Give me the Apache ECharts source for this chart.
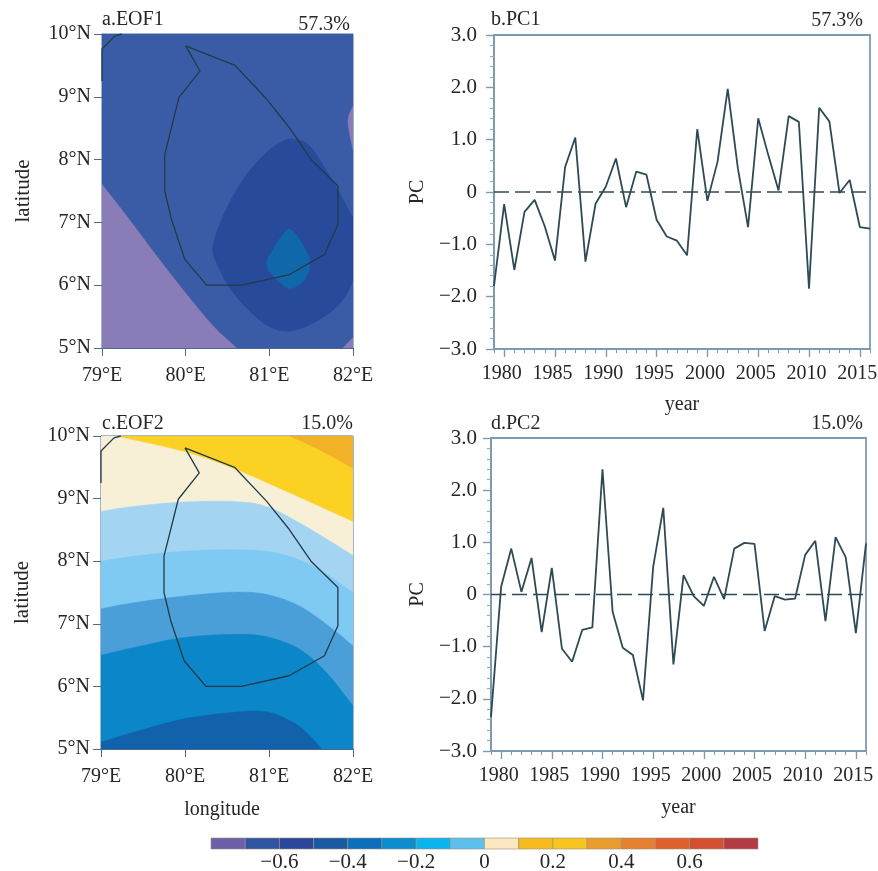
<!DOCTYPE html>
<html><head><meta charset="utf-8">
<style>html,body{margin:0;padding:0;background:#fff}#c{width:878px;height:871px}</style>
<script src="https://cdn.jsdelivr.net/npm/echarts@6/dist/echarts.min.js"></script>
</head><body><div id="c"></div>
<script>
// ---------- data ----------
const years = [1979,1980,1981,1982,1983,1984,1985,1986,1987,1988,1989,1990,1991,1992,1993,1994,1995,1996,1997,1998,1999,2000,2001,2002,2003,2004,2005,2006,2007,2008,2009,2010,2011,2012,2013,2014,2015,2016];
const pc1 = [-1.8,-0.23,-1.49,-0.38,-0.15,-0.66,-1.31,0.48,1.04,-1.33,-0.22,0.1,0.64,-0.29,0.39,0.33,-0.53,-0.85,-0.93,-1.21,1.2,-0.17,0.58,1.97,0.45,-0.67,1.41,0.7,0.03,1.45,1.34,-1.85,1.61,1.35,-0.02,0.23,-0.67,-0.7];
const pc2 = [-2.35,0.15,0.88,0.05,0.7,-0.72,0.51,-1.04,-1.29,-0.68,-0.63,2.4,-0.33,-1.02,-1.16,-2.03,0.53,1.66,-1.34,0.37,-0.03,-0.22,0.34,-0.09,0.88,0.99,0.97,-0.7,-0.03,-0.1,-0.08,0.76,1.03,-0.51,1.1,0.71,-0.74,0.98];
const fiveYearTicks = [1980,1985,1990,1995,2000,2005,2010,2015];

const sriLanka = [[80,9.81],[80.17,9.41],[79.92,8.99],[79.75,8.08],[79.75,7.5],[79.83,7.05],[79.99,6.41],[80.25,6],[80.67,6],[81.24,6.17],[81.66,6.49],[81.82,6.97],[81.82,7.58],[81.5,8],[81.24,8.51],[80.97,8.96],[80.59,9.5],[80,9.81]];
const india = [[79,9.25],[79,9.76],[79.155,9.97],[79.235,10]];

const eof1Color = {base:'#3a5ca6', purple:'#8a7cb6', dark:'#274a9b', core:'#1068ab'};
const eof1LowerLeft = [[79,7.606],[79.294,7.102],[79.653,6.465],[80.011,5.855],[80.329,5.35],[80.608,5]];
const eof1LowerLeftCorners = [[79,5]];
const eof1RightBulge = [[82,8.85],[81.94,8.61],[82,8.16]];
const eof1CornerPatch = [[82,5.165],[81.88,5]];
const eof1CornerPatchCorners = [[82,5]];
const eof1Dark = [[81.284,8.323],[81.483,8.217],[81.722,7.739],[81.921,7.261],[82.05,6.9],[82.05,6.3],[81.881,5.775],[81.602,5.456],[81.244,5.271],[80.926,5.403],[80.568,5.881],[80.369,6.359],[80.329,6.624],[80.448,7.102],[80.687,7.686],[80.966,8.11],[81.165,8.296]];
const eof1Core = [[81.252,6.889],[81.384,6.677],[81.483,6.385],[81.423,6.093],[81.252,5.95],[81.085,6.093],[80.966,6.332],[81.045,6.571],[81.165,6.81]];

const eof2Color = {cream:'#f7efd6', yellow:'#fbd124', orange:'#f2b228', pale:'#a3d4f2', sky:'#7fcaf2', mid:'#4a9fd8', deep:'#0a86c9', navy:'#1261ab'};
const eof2Yellow = [[79.186,10],[79.999,9.751],[80.574,9.485],[81.168,9.14],[82,8.636]];
const eof2YellowCorners = [[82,10]];
const eof2Orange = [[81.247,10],[81.604,9.777],[82,9.485]];
const eof2OrangeCorners = [[82,10]];
const eof2Pale = [[79,8.795],[79.384,8.875],[79.979,8.944],[80.574,8.954],[80.97,8.875],[81.366,8.609],[81.763,8.291],[82,8.089]];
const eof2Sky = [[79,7.999],[79.384,8.079],[79.979,8.158],[80.574,8.185],[81.089,8.132],[81.564,7.893],[82,7.495]];
const eof2Mid = [[79,7.24],[79.384,7.335],[79.979,7.442],[80.574,7.505],[80.97,7.468],[81.366,7.282],[81.763,6.911],[82,6.645]];
const eof2Deep = [[79,6.497],[79.384,6.619],[79.979,6.778],[80.574,6.831],[80.97,6.794],[81.366,6.592],[81.683,6.221],[82,5.69]];
const eof2Navy = [[79,5.106],[79.384,5.265],[79.979,5.478],[80.574,5.584],[80.97,5.594],[81.287,5.425],[81.485,5.212],[81.624,5]];
const eof2BottomCorners = [[82,5],[79,5]];

const colorbarEdges = [-0.8,-0.7,-0.6,-0.5,-0.4,-0.3,-0.2,-0.1,0,0.1,0.2,0.3,0.4,0.5,0.6,0.7,0.8];
const colorbarColors = ['#6f5fa8','#2f55a3','#2b479b','#1a5aa3','#0a70bb','#0b8dd0','#0ab4ec','#5cc0ec','#fbe8c0','#f7bb1e','#f6c520','#e89c2c','#e5812f','#e0602c','#d44e31','#b33b45'];
const colorbarLabels = [-0.6,-0.4,-0.2,0,0.2,0.4,0.6];

// ---------- helpers ----------
const FONT = '"Liberation Serif","DejaVu Serif",serif';
const INK = '#262626', FRAME = '#7d9ab0', LINE = '#2f4a55';

function spline(p, closed){
  const n = p.length, out = [];
  const at = i => closed ? p[(i+n)%n] : p[Math.max(0,Math.min(n-1,i))];
  const segs = closed ? n : n-1;
  for(let i=0;i<segs;i++){
    const a=at(i-1),b=at(i),c=at(i+1),d=at(i+2);
    for(let k=0;k<10;k++){
      const t=k/10,t2=t*t,t3=t2*t;
      out.push([0,1].map(j=>0.5*(2*b[j]+(c[j]-a[j])*t+(2*a[j]-5*b[j]+4*c[j]-d[j])*t2+(3*b[j]-a[j]-3*c[j]+d[j])*t3)));
    }
  }
  if(!closed) out.push(p[n-1]);
  return out;
}
function fieldSeries(axis, layers){
  return {type:'custom', xAxisIndex:axis, yAxisIndex:axis, clip:true, silent:true, z:1,
    data:layers.map((l,i)=>[i]), encode:{x:[],y:[]},
    renderItem(params, api){
      const l = layers[params.dataIndex];
      const edge = spline(l.edge.map(q=>api.coord(q)), !!l.closed);
      const pts = edge.concat((l.corners||[]).map(q=>api.coord(q)));
      return {type:'polygon', shape:{points:pts}, style:{fill:l.color, stroke:l.color, lineWidth:0.5}};
    }};
}
function rectLayer(color){return {color, edge:[[79,10],[82,10]], corners:[[82,5],[79,5]]};}

const gridA={left:102,top:34,width:251,height:314}, gridB={left:494,top:35,width:376,height:314},
      gridC={left:101,top:436,width:252,height:313}, gridD={left:491,top:438,width:375,height:313},
      gridBar={left:211,top:838,width:547,height:11,outerBoundsMode:'none'};
const frame = (g,w,c) => Object.assign({show:true, borderColor:c, borderWidth:w, backgroundColor:'transparent', outerBoundsMode:'none'}, g);

const labelStyle = {fontFamily:FONT, fontSize:20, color:INK};
const MAPLINE = '#4c6a90';
function mapX(i, name){return {gridIndex:i,type:'value',min:79,max:82,interval:1,
  axisLine:{onZero:false,lineStyle:{color:MAPLINE,width:1}},axisTick:{length:8,lineStyle:{color:MAPLINE}},
  axisLabel:Object.assign({margin:18,formatter:v=>v+'°E',hideOverlap:false,showMinLabel:true,showMaxLabel:true},labelStyle),splitLine:{show:false},
  name:name||'',nameLocation:'middle',nameGap:51,nameTextStyle:Object.assign({},labelStyle,{padding:[0,10,0,0]})};}
function mapY(i){return {gridIndex:i,type:'value',min:5,max:10,interval:1,
  axisLine:{onZero:false,lineStyle:{color:MAPLINE,width:1}},axisTick:{length:8,lineStyle:{color:MAPLINE}},
  axisLabel:Object.assign({margin:11,formatter:v=>v+'°N',showMinLabel:true,showMaxLabel:true},labelStyle),splitLine:{show:false},
  name:'latitude',nameLocation:'middle',nameGap:68,nameTextStyle:Object.assign({},labelStyle,{fontSize:21})};}
function yearX(i,margin,gap){return {gridIndex:i,type:'value',position:'bottom',min:1979,max:2016,
  axisLine:{onZero:false,lineStyle:{color:FRAME,width:1.8}},
  axisTick:{length:8,lineStyle:{color:FRAME,width:1.4},customValues:fiveYearTicks},
  axisLabel:Object.assign({margin,padding:[0,5,0,0],customValues:fiveYearTicks,formatter:v=>String(v),hideOverlap:false},labelStyle),splitLine:{show:false},
  name:'year',nameLocation:'middle',nameGap:gap,nameTextStyle:labelStyle};}
function yearMinor(i){return {gridIndex:i,type:'value',position:'bottom',min:1979,max:2016,
  axisLine:{show:false,onZero:false},axisTick:{length:4,lineStyle:{color:FRAME,width:1},customValues:years},
  axisLabel:{show:false},splitLine:{show:false}};}
function pcY(i,margin,gap){return {gridIndex:i,type:'value',min:-3,max:3,interval:1,
  axisLine:{onZero:false,lineStyle:{color:FRAME,width:1.8}},axisTick:{length:8,lineStyle:{color:FRAME,width:1.4}},
  minorTick:{show:true,splitNumber:5,length:4,lineStyle:{color:'#93acbd',width:1.2}},
  axisLabel:Object.assign({margin,formatter:v=>v===0?'0':(v<0?'\u2212':'')+Math.abs(v).toFixed(1),showMinLabel:true,showMaxLabel:true},labelStyle,{fontSize:21}),splitLine:{show:false},
  name:'PC',nameLocation:'middle',nameGap:gap,nameTextStyle:labelStyle};}
const outlineSeries=(axis,data)=>({type:'line',xAxisIndex:axis,yAxisIndex:axis,data,showSymbol:false,symbol:'none',silent:true,z:3,lineStyle:{color:'#223a48',width:1.3}});
const coastSeries=(axis)=>outlineSeries(axis,india);
const pcSeries=(axis,vals)=>({type:'line',xAxisIndex:axis,yAxisIndex:axis,data:years.map((y,i)=>[y,vals[i]]),showSymbol:false,symbol:'none',silent:true,z:3,lineStyle:{color:LINE,width:1.8}});
const zeroSeries=(axis)=>({type:'line',xAxisIndex:axis,yAxisIndex:axis,data:[[1979,0],[2016,0]],showSymbol:false,symbol:'none',silent:true,z:2,lineStyle:{color:LINE,width:1.7,type:[15,6]}});

const eof1Layers=[rectLayer(eof1Color.base),
  {color:eof1Color.purple,edge:eof1LowerLeft,corners:eof1LowerLeftCorners},
  {color:eof1Color.purple,edge:eof1RightBulge},
  {color:eof1Color.purple,edge:eof1CornerPatch,corners:eof1CornerPatchCorners},
  {color:eof1Color.dark,edge:eof1Dark,closed:true},
  {color:eof1Color.core,edge:eof1Core,closed:true}];
const eof2Layers=[rectLayer(eof2Color.cream),
  {color:eof2Color.yellow,edge:eof2Yellow,corners:eof2YellowCorners},
  {color:eof2Color.orange,edge:eof2Orange,corners:eof2OrangeCorners},
  {color:eof2Color.pale,edge:eof2Pale,corners:eof2BottomCorners},
  {color:eof2Color.sky,edge:eof2Sky,corners:eof2BottomCorners},
  {color:eof2Color.mid,edge:eof2Mid,corners:eof2BottomCorners},
  {color:eof2Color.deep,edge:eof2Deep,corners:eof2BottomCorners},
  {color:eof2Color.navy,edge:eof2Navy,corners:[[79,5]]}];

const T=(text,pos)=>Object.assign({text,padding:0,textStyle:{fontFamily:FONT,fontSize:20,fontWeight:'normal',color:INK}},pos);

const option={
  animation:false, backgroundColor:'#fff',
  title:[
    T('a.EOF1',{left:102,top:10}),T('57.3%',{right:528,top:15}),
    T('b.PC1',{left:491,top:10}),T('57.3%',{right:15,top:11}),
    T('c.EOF2',{left:102,top:414}),T('15.0%',{right:525,top:414}),
    T('d.PC2',{left:491,top:414}),T('15.0%',{right:15,top:414})
  ],
  grid:[frame(gridA,1,MAPLINE),frame(gridB,1.8,FRAME),frame(gridC,1,MAPLINE),frame(gridD,1.8,FRAME),gridBar],
  xAxis:[mapX(0),yearX(1,15,46),mapX(2,'longitude'),yearX(3,15,47),
    {gridIndex:4,type:'value',min:-0.8,max:0.8,interval:0.2,axisLine:{show:false},axisTick:{show:false},splitLine:{show:false},
     axisLabel:Object.assign({margin:3,customValues:colorbarLabels,formatter:v=>{const r=Math.round(v*10)/10;return r===0?'0':(r<0?'\u2212':'')+Math.abs(r).toFixed(1);}},labelStyle,{fontSize:21})},
    yearMinor(1),yearMinor(3)],
  yAxis:[mapY(0),pcY(1,17,66),mapY(2),pcY(3,14,63),
    {gridIndex:4,type:'value',min:0,max:1,show:false},
    {gridIndex:1,type:'value',min:-3,max:3,show:false},{gridIndex:3,type:'value',min:-3,max:3,show:false}],
  series:[
    fieldSeries(0,eof1Layers),outlineSeries(0,sriLanka),coastSeries(0),
    zeroSeries(1),pcSeries(1,pc1),
    fieldSeries(2,eof2Layers),outlineSeries(2,sriLanka),coastSeries(2),
    zeroSeries(3),pcSeries(3,pc2),
    {type:'custom',xAxisIndex:4,yAxisIndex:4,silent:true,data:colorbarColors.map((c,i)=>[i]),encode:{x:[],y:[]},
     renderItem(params,api){
       const i=params.dataIndex, a=api.coord([colorbarEdges[i],1]), b=api.coord([colorbarEdges[i+1],0]);
       return {type:'rect',shape:{x:a[0],y:a[1],width:b[0]-a[0],height:b[1]-a[1]},style:{fill:colorbarColors[i],stroke:'#9b8f80',lineWidth:0.6}};
     }}
  ]
};
const chart=echarts.init(document.getElementById('c'),null,{renderer:'canvas'});
chart.setOption(option);
</script></body></html>
